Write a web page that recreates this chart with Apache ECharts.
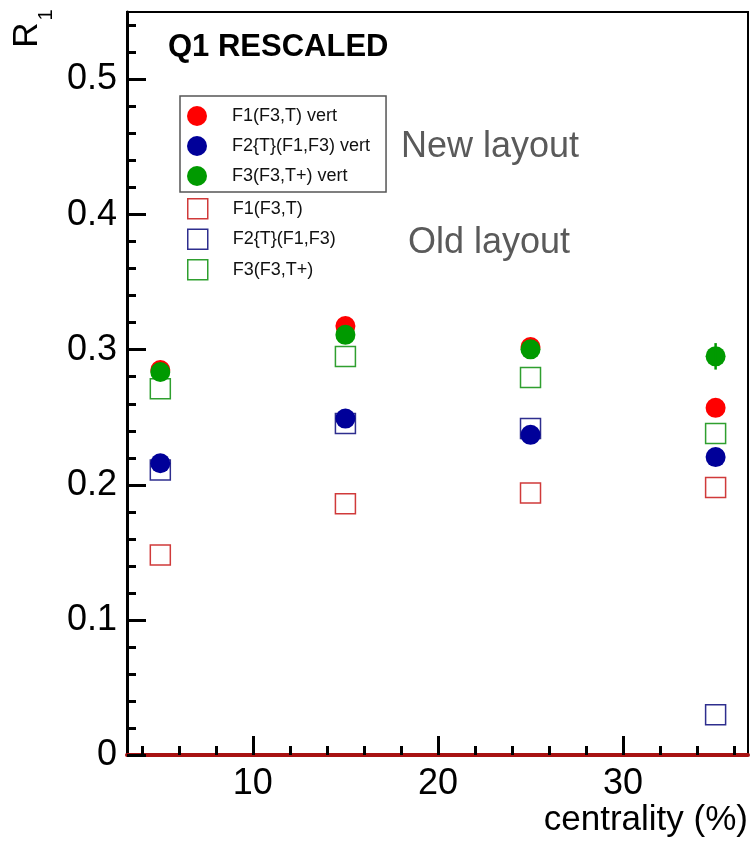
<!DOCTYPE html>
<html>
<head>
<meta charset="utf-8">
<script src="https://cdn.jsdelivr.net/npm/echarts@6.0.0/dist/echarts.min.js"></script>
<style>
  html, body { margin: 0; padding: 0; background: #fff; }
  #chart { width: 750px; height: 846px; }
</style>
</head>
<body>
<div id="chart"></div>
<script>
// centrality bins (%)
const centrality = [5, 15, 25, 35];

// new layout (vert), filled circles
const f1Vert = [0.285, 0.3175, 0.302, 0.257];
const f2Vert = [0.216, 0.249, 0.237, 0.2205];
const f3Vert = [0.2835, 0.311, 0.3003, 0.2951];
const f3VertErr = [0, 0, 0, 0.0098];

// old layout, open squares
const f1Old = [0.148, 0.186, 0.194, 0.198];
const f2Old = [0.211, 0.2453, 0.2416, 0.0298];
const f3Old = [0.2712, 0.2949, 0.2794, 0.2379];

const yMajor = [0, 0.1, 0.2, 0.3, 0.4, 0.5];
const yMinor = [0.02, 0.04, 0.06, 0.08, 0.12, 0.14, 0.16, 0.18, 0.22, 0.24, 0.26, 0.28,
  0.32, 0.34, 0.36, 0.38, 0.42, 0.44, 0.46, 0.48, 0.52, 0.54];
const xMajor = [10, 20, 30];
const xMinor = [4, 6, 8, 12, 14, 16, 18, 22, 24, 26, 28, 32, 34, 36];

const RED = '#ff0000', BLUE = '#000099', GREEN = '#009a00';
const RED_O = '#d03a3a', BLUE_O = '#2e2e8e', GREEN_O = '#2f9f2f';
const FONT = '"Liberation Sans", Arial, sans-serif';

const pts = (ys) => centrality.map((x, i) => [x, ys[i]]);

function vertSeries(name, ys, color) {
  return {
    name, type: 'scatter', data: pts(ys), symbol: 'circle', symbolSize: 20,
    itemStyle: { color, opacity: 1 }, z: 5, silent: true
  };
}
function oldSeries(name, ys, color) {
  return {
    name, type: 'scatter', data: pts(ys), symbol: 'rect', symbolSize: 20,
    itemStyle: { color: 'rgba(255,255,255,0)', borderColor: color, borderWidth: 1.5, opacity: 1 },
    z: 3, silent: true
  };
}

const chart = echarts.init(document.getElementById('chart'), null, { renderer: 'canvas' });

const legendText = { fontFamily: FONT, fontSize: 18, color: '#111', padding: [0, 0, 0, 20] };

chart.setOption({
  animation: false,
  backgroundColor: '#fff',
  grid: {
    left: 127, right: 2, top: 12, bottom: 91,
    show: true, borderColor: '#000', borderWidth: 2, backgroundColor: 'transparent'
  },
  legend: [
    {
      orient: 'vertical', left: 180, top: 96,
      padding: [10, 16, 6, 7], itemGap: 10, itemWidth: 20, itemHeight: 20,
      borderColor: '#555', borderWidth: 1.5, backgroundColor: '#fff',
      textStyle: legendText, selectedMode: false,
      data: [
        { name: 'F1(F3,T) vert', icon: 'circle' },
        { name: 'F2{T}(F1,F3) vert', icon: 'circle' },
        { name: 'F3(F3,T+) vert', icon: 'circle' }
      ]
    },
    {
      orient: 'vertical', left: 187, top: 198,
      padding: 0, itemGap: 9, itemWidth: 20, itemHeight: 20,
      textStyle: legendText, selectedMode: false,
      data: [
        { name: 'F1(F3,T)', icon: 'rect', itemStyle: { color: 'rgba(255,255,255,0)', borderColor: RED_O, borderWidth: 1.5 } },
        { name: 'F2{T}(F1,F3)', icon: 'rect', itemStyle: { color: 'rgba(255,255,255,0)', borderColor: BLUE_O, borderWidth: 1.5 } },
        { name: 'F3(F3,T+)', icon: 'rect', itemStyle: { color: 'rgba(255,255,255,0)', borderColor: GREEN_O, borderWidth: 1.5 } }
      ]
    }
  ],
  xAxis: [
    {
      type: 'value', min: 3.2, max: 36.75, position: 'bottom',
      axisLine: { show: true, onZero: false, lineStyle: { color: '#a81212', width: 4 } },
      axisTick: { show: true, inside: true, length: 19, customValues: xMajor, lineStyle: { color: '#000', width: 3 } },
      axisLabel: { customValues: xMajor, margin: 11, fontFamily: FONT, fontSize: 36, color: '#000' },
      splitLine: { show: false }
    },
    {
      type: 'value', min: 3.2, max: 36.75, position: 'bottom',
      axisLine: { show: false },
      axisTick: { show: true, inside: true, length: 9, customValues: xMinor, lineStyle: { color: '#000', width: 3 } },
      axisLabel: { show: false },
      splitLine: { show: false }
    }
  ],
  yAxis: [
    {
      type: 'value', min: 0, max: 0.55, position: 'left',
      axisLine: { show: true, onZero: false, lineStyle: { color: '#000', width: 3 } },
      axisTick: { show: true, inside: true, length: 19, customValues: yMajor, lineStyle: { color: '#000', width: 3 } },
      axisLabel: {
        customValues: yMajor, margin: 10, fontFamily: FONT, fontSize: 36, color: '#000',
        formatter: (v) => (v === 0 ? '0' : v.toFixed(1))
      },
      splitLine: { show: false }
    },
    {
      type: 'value', min: 0, max: 0.55, position: 'left',
      axisLine: { show: false },
      axisTick: { show: true, inside: true, length: 9, customValues: yMinor, lineStyle: { color: '#000', width: 3 } },
      axisLabel: { show: false },
      splitLine: { show: false }
    }
  ],
  graphic: [
    { type: 'text', x: 168, y: 47, z: 10,
      style: { text: 'Q1 RESCALED', font: 'bold 31px ' + FONT, fill: '#000', textVerticalAlign: 'middle' } },
    { type: 'text', x: 401, y: 147, z: 10,
      style: { text: 'New layout', font: '36px ' + FONT, fill: '#5a5a5a', textVerticalAlign: 'middle' } },
    { type: 'text', x: 408, y: 243, z: 10,
      style: { text: 'Old layout', font: '36px ' + FONT, fill: '#5a5a5a', textVerticalAlign: 'middle' } },
    { type: 'text', x: 27, y: 35, rotation: Math.PI / 2, z: 10,
      style: { text: 'R', font: '35px ' + FONT, fill: '#000', textAlign: 'center', textVerticalAlign: 'middle' } },
    { type: 'text', x: 46, y: 15, rotation: Math.PI / 2, z: 10,
      style: { text: '1', font: '20px ' + FONT, fill: '#000', textAlign: 'center', textVerticalAlign: 'middle' } },
    { type: 'text', x: 748, y: 820, z: 10,
      style: { text: 'centrality (%)', font: '35px ' + FONT, fill: '#000', textAlign: 'right', textVerticalAlign: 'middle' } }
  ],
  series: [
    oldSeries('F1(F3,T)', f1Old, RED_O),
    oldSeries('F2{T}(F1,F3)', f2Old, BLUE_O),
    oldSeries('F3(F3,T+)', f3Old, GREEN_O),
    vertSeries('F1(F3,T) vert', f1Vert, RED),
    vertSeries('F2{T}(F1,F3) vert', f2Vert, BLUE),
    {
      // error bars of F3 vert
      type: 'custom', silent: true, z: 6,
      data: centrality.map((x, i) => [x, f3Vert[i] - f3VertErr[i], f3Vert[i] + f3VertErr[i]]),
      renderItem: (params, api) => {
        const lo = api.coord([api.value(0), api.value(1)]);
        const hi = api.coord([api.value(0), api.value(2)]);
        return {
          type: 'line',
          shape: { x1: lo[0], y1: lo[1], x2: hi[0], y2: hi[1] },
          style: { stroke: GREEN, lineWidth: 2.5 }
        };
      }
    },
    vertSeries('F3(F3,T+) vert', f3Vert, GREEN)
  ]
});
</script>
</body>
</html>
